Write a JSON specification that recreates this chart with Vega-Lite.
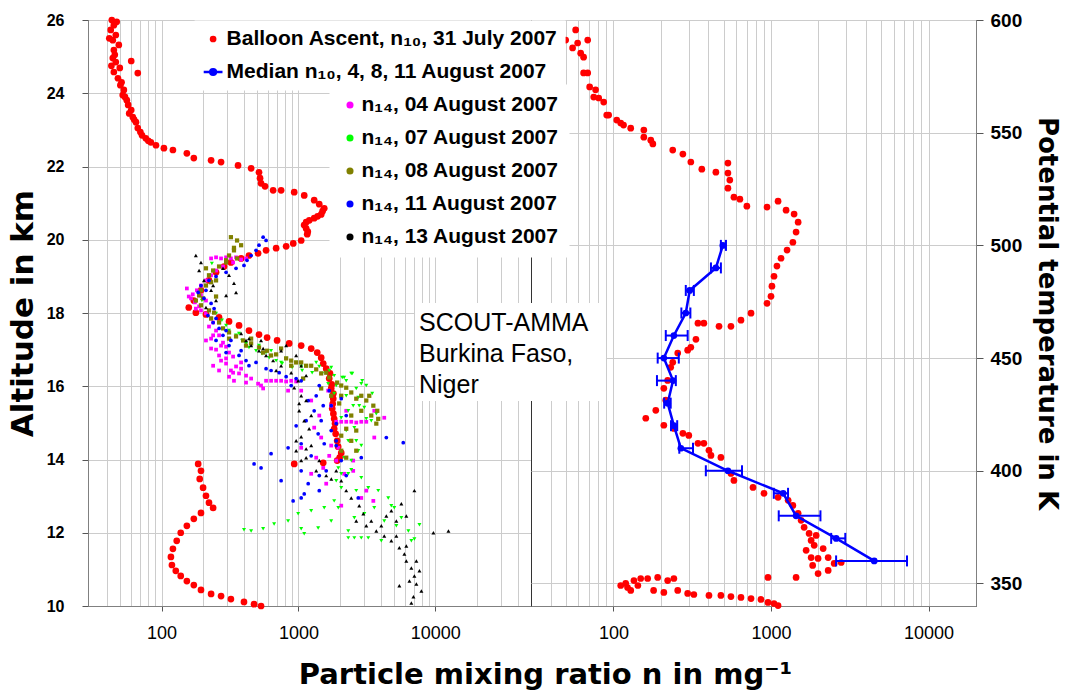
{
"$schema": "https://vega.github.io/schema/vega-lite/v6.json",
"background": "white",
"padding": {"left": 6, "top": 10, "right": 0, "bottom": 0},
"config": {
  "view": {"stroke": "#333", "strokeWidth": 1},
  "font": "Liberation Sans",
  "axis": {"domainColor": "#808080", "gridColor": "#cccccc", "gridWidth": 1, "tickColor": "#555", "labelColor": "#000", "titleColor": "#000", "labelFont": "Liberation Sans", "titleFont": "DejaVu Sans"},
  "legend": {"labelFont": "Liberation Sans"}
},
"spacing": 0,
"bounds": "flush",
"resolve": {"scale": {"color": "shared", "fill": "shared"}},
"datasets": {
"balL": [{"n":43.3,"alt":26.0},{"n":47,"alt":25.95},{"n":44.8,"alt":25.86},{"n":42.5,"alt":25.73},{"n":46.3,"alt":25.59},{"n":41.5,"alt":25.5},{"n":44,"alt":25.45},{"n":48.7,"alt":25.32},{"n":44.8,"alt":25.18},{"n":45.5,"alt":25.05},{"n":44,"alt":24.96},{"n":60,"alt":24.88},{"n":46.3,"alt":24.85},{"n":43,"alt":24.75},{"n":49.5,"alt":24.69},{"n":44.8,"alt":24.58},{"n":67,"alt":24.55},{"n":48,"alt":24.41},{"n":51,"alt":24.3},{"n":50,"alt":24.22},{"n":53,"alt":24.09},{"n":52,"alt":23.95},{"n":54,"alt":23.9},{"n":55.7,"alt":23.81},{"n":57,"alt":23.68},{"n":60,"alt":23.54},{"n":58,"alt":23.45},{"n":61.6,"alt":23.35},{"n":63,"alt":23.28},{"n":65,"alt":23.21},{"n":67,"alt":23.05},{"n":70,"alt":22.94},{"n":72,"alt":22.85},{"n":76.7,"alt":22.77},{"n":80,"alt":22.7},{"n":83.5,"alt":22.66},{"n":91,"alt":22.58},{"n":104,"alt":22.5},{"n":121,"alt":22.45},{"n":153,"alt":22.36},{"n":172,"alt":22.23},{"n":230,"alt":22.17},{"n":272,"alt":22.12},{"n":362,"alt":22.03},{"n":451,"alt":21.95},{"n":515,"alt":21.84},{"n":524,"alt":21.68},{"n":533,"alt":21.54},{"n":570,"alt":21.46},{"n":653,"alt":21.35},{"n":747,"alt":21.35},{"n":931,"alt":21.3},{"n":1102,"alt":21.21},{"n":1303,"alt":21.08},{"n":1419,"alt":20.97},{"n":1543,"alt":20.86},{"n":1500,"alt":20.78},{"n":1466,"alt":20.69},{"n":1380,"alt":20.64},{"n":1303,"alt":20.59},{"n":1200,"alt":20.53},{"n":1138,"alt":20.48},{"n":1100,"alt":20.4},{"n":1138,"alt":20.31},{"n":1170,"alt":20.22},{"n":1159,"alt":20.15},{"n":1047,"alt":19.98},{"n":916,"alt":19.9},{"n":813,"alt":19.82},{"n":687,"alt":19.77},{"n":580,"alt":19.71},{"n":507,"alt":19.63},{"n":435,"alt":19.57},{"n":381,"alt":19.49},{"n":321,"alt":19.38},{"n":286,"alt":19.27},{"n":250,"alt":19.11},{"n":222,"alt":18.89},{"n":194,"alt":18.62},{"n":172,"alt":18.34},{"n":158,"alt":18.15},{"n":178,"alt":18.01},{"n":211,"alt":17.96},{"n":263,"alt":17.88},{"n":311,"alt":17.77},{"n":368,"alt":17.66},{"n":435,"alt":17.52},{"n":515,"alt":17.41},{"n":590,"alt":17.33},{"n":698,"alt":17.25},{"n":855,"alt":17.17},{"n":1047,"alt":17.11},{"n":1239,"alt":17.03},{"n":1371,"alt":16.92},{"n":1466,"alt":16.78},{"n":1517,"alt":16.62},{"n":1595,"alt":16.48},{"n":1700,"alt":16.35},{"n":1678,"alt":16.21},{"n":1750,"alt":16.05},{"n":1735,"alt":15.94},{"n":1800,"alt":15.8},{"n":1795,"alt":15.66},{"n":1780,"alt":15.52},{"n":1765,"alt":15.39},{"n":1800,"alt":15.25},{"n":1824,"alt":15.11},{"n":1850,"alt":14.98},{"n":1824,"alt":14.84},{"n":1870,"alt":14.7},{"n":1918,"alt":14.51},{"n":1950,"alt":14.35},{"n":2054,"alt":14.18},{"n":2000,"alt":14.05},{"n":1918,"alt":13.97},{"n":1517,"alt":13.91},{"n":931,"alt":13.88},{"n":185,"alt":13.88},{"n":194,"alt":13.69},{"n":190,"alt":13.47},{"n":201,"alt":13.23},{"n":211,"alt":13.01},{"n":222,"alt":12.82},{"n":238,"alt":12.68},{"n":194,"alt":12.54},{"n":172,"alt":12.38},{"n":153,"alt":12.19},{"n":138,"alt":12.0},{"n":129,"alt":11.78},{"n":121,"alt":11.56},{"n":117,"alt":11.34},{"n":119,"alt":11.12},{"n":127,"alt":10.96},{"n":138,"alt":10.82},{"n":153,"alt":10.68},{"n":172,"alt":10.57},{"n":194,"alt":10.44},{"n":230,"alt":10.33},{"n":272,"alt":10.27},{"n":321,"alt":10.19},{"n":400,"alt":10.11},{"n":474,"alt":10.05},{"n":533,"alt":10.0}],
"balR": [{"n":49.8,"theta":591.1},{"n":57.6,"theta":595.6},{"n":55.1,"theta":587.6},{"n":59.3,"theta":589.8},{"n":62,"theta":585.3},{"n":64.7,"theta":583.5},{"n":68.7,"theta":591.1},{"n":64.7,"theta":576.5},{"n":68.7,"theta":576.5},{"n":70.7,"theta":570.3},{"n":77.1,"theta":569},{"n":75,"theta":565.8},{"n":80.7,"theta":565.4},{"n":86.8,"theta":563.6},{"n":90.7,"theta":557.8},{"n":93.3,"theta":557.8},{"n":105,"theta":555.6},{"n":111.3,"theta":554.3},{"n":116,"theta":553.4},{"n":128.8,"theta":552},{"n":156,"theta":551.2},{"n":156,"theta":548},{"n":172.7,"theta":546.7},{"n":178,"theta":545},{"n":238,"theta":542.3},{"n":276,"theta":540.5},{"n":310,"theta":537},{"n":364,"theta":533.8},{"n":447,"theta":532.5},{"n":533,"theta":536.5},{"n":533,"theta":532.1},{"n":548,"theta":529},{"n":533,"theta":525.4},{"n":582,"theta":521.4},{"n":635,"theta":520.5},{"n":703,"theta":517.4},{"n":944,"theta":517},{"n":1109,"theta":519.6},{"n":1247,"theta":515.6},{"n":1402,"theta":513.9},{"n":1487,"theta":510.3},{"n":1443,"theta":505.9},{"n":1377,"theta":501.4},{"n":1265,"theta":497.9},{"n":1158,"theta":494.3},{"n":1091,"theta":490.8},{"n":1045,"theta":486.3},{"n":1014,"theta":481.9},{"n":1000,"theta":477.4},{"n":944,"theta":474.3},{"n":747,"theta":469.9},{"n":645,"theta":466.8},{"n":557,"theta":464.1},{"n":468,"theta":464.1},{"n":375,"theta":465.5},{"n":344,"theta":465.5},{"n":334,"theta":458.3},{"n":310,"theta":454.8},{"n":296,"theta":453.5},{"n":256,"theta":452.2},{"n":238,"theta":448.1},{"n":231,"theta":445.9},{"n":221,"theta":440.1},{"n":209,"theta":436.6},{"n":215,"theta":431.3},{"n":185.8,"theta":426.8},{"n":160.5,"theta":423.3},{"n":209,"theta":420.2},{"n":242,"theta":418.8},{"n":276,"theta":416.6},{"n":301,"theta":415.7},{"n":344,"theta":412.2},{"n":375,"theta":412.2},{"n":404,"theta":409.1},{"n":416,"theta":406.8},{"n":481,"theta":405.9},{"n":557,"theta":398.8},{"n":582,"theta":395.7},{"n":769,"theta":392.6},{"n":903,"theta":390},{"n":1109,"theta":388.2},{"n":1285,"theta":386.9},{"n":1377,"theta":384.6},{"n":1487,"theta":381.1},{"n":1553,"theta":378},{"n":1623,"theta":374.9},{"n":1746,"theta":372.2},{"n":1798,"theta":369.1},{"n":1880,"theta":366.9},{"n":1798,"theta":361.5},{"n":1990,"theta":361.1},{"n":2306,"theta":361.5},{"n":2518,"theta":358.9},{"n":2306,"theta":355.8},{"n":1990,"theta":354.4},{"n":1443,"theta":352.7},{"n":957,"theta":352.7},{"n":1935,"theta":371.3},{"n":2143,"theta":365.5},{"n":1671,"theta":364.7},{"n":2790,"theta":359.3},{"n":1839,"theta":358},{"n":111.3,"theta":349.1},{"n":123,"theta":348.2},{"n":135,"theta":351.3},{"n":149,"theta":352.2},{"n":165,"theta":352.2},{"n":191,"theta":352.7},{"n":221,"theta":351.3},{"n":242,"theta":352.2},{"n":180,"theta":346.9},{"n":209,"theta":346},{"n":256,"theta":346.9},{"n":296,"theta":345.6},{"n":324,"theta":345.1},{"n":404,"theta":344.7},{"n":481,"theta":344.7},{"n":557,"theta":344.2},{"n":645,"theta":343.8},{"n":747,"theta":343.3},{"n":864,"theta":342.9},{"n":957,"theta":341.6},{"n":1045,"theta":341.1},{"n":1109,"theta":340.2},{"n":119.7,"theta":350},{"n":128.8,"theta":346.9},{"n":143,"theta":349.1}],
"med": [{"theta":500,"n":495,"lo":481,"hi":518},{"theta":490,"n":447,"lo":416,"hi":481},{"theta":480,"n":305,"lo":288,"hi":324},{"theta":470,"n":288,"lo":270,"hi":308},{"theta":460,"n":242,"lo":215,"hi":296},{"theta":450,"n":209,"lo":191,"hi":260},{"theta":440,"n":239,"lo":189,"hi":249},{"theta":430,"n":221,"lo":210,"hi":231},{"theta":420,"n":242,"lo":232,"hi":254},{"theta":410,"n":268,"lo":262,"hi":320},{"theta":400,"n":533,"lo":386,"hi":655},{"theta":390,"n":1195,"lo":1042,"hi":1283},{"theta":380,"n":1443,"lo":1120,"hi":2060},{"theta":370,"n":2593,"lo":2410,"hi":2962},{"theta":360,"n":4520,"lo":2590,"hi":7300}],
"m04": [{"n":230,"alt":19.49},{"n":250,"alt":19.52},{"n":272,"alt":19.49},{"n":296,"alt":19.52},{"n":321,"alt":19.49},{"n":350,"alt":19.52},{"n":381,"alt":19.46},{"n":414,"alt":19.49},{"n":333,"alt":19.38},{"n":281,"alt":19.27},{"n":250,"alt":19.16},{"n":230,"alt":19.03},{"n":211,"alt":18.89},{"n":194,"alt":18.75},{"n":181,"alt":18.62},{"n":169,"alt":18.51},{"n":164,"alt":18.4},{"n":175,"alt":18.29},{"n":188,"alt":18.18},{"n":194,"alt":18.07},{"n":211,"alt":17.99},{"n":230,"alt":17.85},{"n":238,"alt":17.74},{"n":222,"alt":17.63},{"n":250,"alt":17.52},{"n":263,"alt":17.39},{"n":230,"alt":17.3},{"n":281,"alt":17.19},{"n":296,"alt":17.08},{"n":250,"alt":17.0},{"n":311,"alt":16.92},{"n":333,"alt":16.81},{"n":272,"alt":16.7},{"n":296,"alt":16.62},{"n":350,"alt":16.54},{"n":321,"alt":16.43},{"n":368,"alt":16.35},{"n":311,"alt":16.26},{"n":580,"alt":16.15},{"n":631,"alt":16.15},{"n":687,"alt":16.15},{"n":747,"alt":16.15},{"n":813,"alt":16.13},{"n":885,"alt":16.15},{"n":962,"alt":16.13},{"n":451,"alt":16.21},{"n":507,"alt":16.07},{"n":552,"alt":15.94},{"n":840,"alt":15.88},{"n":1239,"alt":15.61},{"n":1648,"alt":15.88},{"n":1303,"alt":14.87},{"n":1466,"alt":14.6},{"n":1047,"alt":14.32},{"n":1955,"alt":14.32},{"n":1517,"alt":13.77},{"n":1595,"alt":13.34},{"n":1239,"alt":13.61},{"n":2158,"alt":13.61},{"n":2877,"alt":12.95},{"n":3524,"alt":12.87},{"n":3580,"alt":14.6},{"n":4235,"alt":15.14},{"n":3580,"alt":15.33},{"n":1888,"alt":15.03},{"n":2054,"alt":15.03},{"n":2234,"alt":15.03},{"n":2431,"alt":15.03},{"n":2644,"alt":15.01},{"n":2877,"alt":15.03},{"n":3130,"alt":15.03},{"n":1735,"alt":15.47},{"n":2234,"alt":15.33},{"n":1888,"alt":13.97},{"n":2512,"alt":13.69},{"n":1678,"alt":14.1},{"n":153,"alt":18.67},{"n":158,"alt":18.45},{"n":238,"alt":16.56},{"n":263,"alt":16.84},{"n":381,"alt":16.48},{"n":414,"alt":16.29},{"n":338,"alt":16.15},{"n":194,"alt":18.48},{"n":211,"alt":18.34},{"n":178,"alt":18.12},{"n":238,"alt":17.39},{"n":272,"alt":17.11},{"n":211,"alt":17.25},{"n":263,"alt":16.43},{"n":296,"alt":16.76},{"n":381,"alt":16.65},{"n":333,"alt":16.37},{"n":230,"alt":17.03},{"n":414,"alt":16.1},{"n":533,"alt":16.02},{"n":1047,"alt":15.88},{"n":1419,"alt":15.2},{"n":1735,"alt":14.38},{"n":1348,"alt":14.05},{"n":2512,"alt":13.97},{"n":3130,"alt":13.15},{"n":2054,"alt":12.74}],
"g07": [{"n":233,"alt":19.35},{"n":197,"alt":18.34},{"n":250,"alt":17.99},{"n":276,"alt":17.8},{"n":311,"alt":17.52},{"n":350,"alt":17.39},{"n":387,"alt":17.25},{"n":435,"alt":17.06},{"n":490,"alt":16.97},{"n":542,"alt":16.89},{"n":611,"alt":16.78},{"n":687,"alt":16.7},{"n":760,"alt":16.62},{"n":899,"alt":16.51},{"n":1064,"alt":16.43},{"n":1259,"alt":16.37},{"n":1489,"alt":16.35},{"n":1678,"alt":16.43},{"n":2089,"alt":16.24},{"n":2472,"alt":16.35},{"n":2924,"alt":16.15},{"n":3459,"alt":15.8},{"n":3705,"alt":15.25},{"n":2158,"alt":16.24},{"n":2431,"alt":16.35},{"n":2877,"alt":16.07},{"n":2735,"alt":15.69},{"n":3027,"alt":15.42},{"n":2312,"alt":15.33},{"n":2054,"alt":15.14},{"n":2560,"alt":14.87},{"n":2312,"alt":14.51},{"n":2735,"alt":14.24},{"n":2158,"alt":14.05},{"n":1955,"alt":13.77},{"n":2312,"alt":13.61},{"n":2877,"alt":13.5},{"n":2054,"alt":13.23},{"n":1824,"alt":12.87},{"n":1543,"alt":12.68},{"n":1239,"alt":12.6},{"n":995,"alt":12.52},{"n":840,"alt":12.32},{"n":664,"alt":12.24},{"n":552,"alt":12.11},{"n":451,"alt":12.05},{"n":400,"alt":12.08},{"n":1102,"alt":11.97},{"n":1393,"alt":12.13},{"n":2312,"alt":11.86},{"n":2560,"alt":11.86},{"n":2877,"alt":11.86},{"n":3236,"alt":11.86},{"n":3827,"alt":13.15},{"n":4529,"alt":12.95},{"n":5012,"alt":12.68},{"n":5645,"alt":12.41},{"n":6353,"alt":12.05},{"n":7030,"alt":11.83},{"n":7656,"alt":12.22},{"n":3580,"alt":12.68},{"n":4235,"alt":12.32},{"n":3027,"alt":12.52},{"n":2560,"alt":12.41},{"n":2312,"alt":12.05},{"n":1955,"alt":12.68},{"n":3236,"alt":13.23},{"n":1648,"alt":16.07},{"n":1824,"alt":15.8},{"n":1735,"alt":16.51},{"n":2054,"alt":13.61},{"n":296,"alt":17.66},{"n":368,"alt":17.44},{"n":515,"alt":17.11},{"n":631,"alt":16.97},{"n":813,"alt":16.76},{"n":962,"alt":16.65},{"n":1419,"alt":16.54},{"n":1888,"alt":16.02},{"n":2234,"alt":15.74},{"n":2512,"alt":15.47},{"n":3130,"alt":15.11},{"n":2644,"alt":14.51},{"n":2431,"alt":13.97},{"n":414,"alt":17.17},{"n":580,"alt":16.92},{"n":747,"alt":16.65},{"n":1047,"alt":16.54},{"n":1348,"alt":16.65},{"n":1824,"alt":16.29},{"n":2234,"alt":16.15},{"n":2644,"alt":15.94},{"n":3130,"alt":16.02},{"n":2780,"alt":15.47},{"n":3404,"alt":15.06},{"n":2234,"alt":14.79},{"n":2877,"alt":14.38},{"n":2431,"alt":13.72},{"n":1888,"alt":13.42},{"n":2644,"alt":13.15},{"n":1047,"alt":12.11},{"n":1735,"alt":12.32},{"n":5190,"alt":12.19},{"n":6680,"alt":11.78},{"n":4030,"alt":11.78},{"n":4770,"alt":12.74}],
"o08": [{"n":321,"alt":20.07},{"n":356,"alt":19.98},{"n":381,"alt":19.85},{"n":338,"alt":19.71},{"n":311,"alt":19.57},{"n":356,"alt":19.49},{"n":296,"alt":19.38},{"n":263,"alt":19.27},{"n":238,"alt":19.16},{"n":222,"alt":19.03},{"n":250,"alt":18.89},{"n":211,"alt":18.75},{"n":194,"alt":18.62},{"n":188,"alt":18.48},{"n":178,"alt":18.34},{"n":194,"alt":18.21},{"n":222,"alt":18.07},{"n":242,"alt":18.01},{"n":230,"alt":17.85},{"n":263,"alt":17.74},{"n":281,"alt":17.58},{"n":311,"alt":17.47},{"n":350,"alt":17.36},{"n":394,"alt":17.25},{"n":451,"alt":17.17},{"n":515,"alt":17.06},{"n":590,"alt":16.97},{"n":687,"alt":16.87},{"n":813,"alt":16.76},{"n":962,"alt":16.65},{"n":1138,"alt":16.56},{"n":1348,"alt":16.46},{"n":1466,"alt":16.35},{"n":1678,"alt":16.24},{"n":1918,"alt":16.1},{"n":2234,"alt":15.96},{"n":2431,"alt":15.83},{"n":2054,"alt":15.74},{"n":2644,"alt":15.66},{"n":3130,"alt":15.61},{"n":3524,"alt":15.47},{"n":3767,"alt":15.33},{"n":3827,"alt":15.11},{"n":3705,"alt":14.98},{"n":2431,"alt":15.2},{"n":2234,"alt":14.84},{"n":2431,"alt":14.51},{"n":2644,"alt":14.24},{"n":2234,"alt":14.05},{"n":1239,"alt":16.56},{"n":1082,"alt":16.21},{"n":1466,"alt":15.94},{"n":1735,"alt":15.74},{"n":1985,"alt":15.53},{"n":747,"alt":17.03},{"n":631,"alt":16.84},{"n":451,"alt":17.3},{"n":250,"alt":18.45},{"n":211,"alt":19.22},{"n":2877,"alt":15.33},{"n":3290,"alt":15.74},{"n":2054,"alt":14.65},{"n":885,"alt":16.56},{"n":552,"alt":16.92},{"n":338,"alt":19.78},{"n":296,"alt":19.44},{"n":230,"alt":18.84},{"n":201,"alt":18.4},{"n":311,"alt":17.3},{"n":414,"alt":17.11},{"n":885,"alt":16.7},{"n":1047,"alt":16.65},{"n":1595,"alt":16.37},{"n":2054,"alt":16.02},{"n":2877,"alt":15.74},{"n":3404,"alt":15.2},{"n":2644,"alt":14.79},{"n":2054,"alt":14.24}],
"b11": [{"n":552,"alt":20.07},{"n":580,"alt":19.98},{"n":515,"alt":19.85},{"n":490,"alt":19.71},{"n":451,"alt":19.57},{"n":421,"alt":19.44},{"n":400,"alt":19.3},{"n":350,"alt":19.22},{"n":296,"alt":19.11},{"n":250,"alt":19.0},{"n":222,"alt":18.89},{"n":194,"alt":18.75},{"n":185,"alt":18.56},{"n":204,"alt":18.4},{"n":230,"alt":18.26},{"n":242,"alt":18.12},{"n":218,"alt":17.93},{"n":238,"alt":17.74},{"n":263,"alt":17.58},{"n":281,"alt":17.39},{"n":250,"alt":17.25},{"n":311,"alt":17.11},{"n":296,"alt":16.92},{"n":368,"alt":16.84},{"n":414,"alt":16.7},{"n":490,"alt":16.65},{"n":580,"alt":16.48},{"n":723,"alt":16.37},{"n":813,"alt":16.26},{"n":1047,"alt":16.15},{"n":1178,"alt":15.61},{"n":1303,"alt":15.33},{"n":1393,"alt":14.7},{"n":1047,"alt":14.43},{"n":840,"alt":14.32},{"n":631,"alt":14.16},{"n":474,"alt":13.88},{"n":533,"alt":13.77},{"n":1178,"alt":13.34},{"n":1102,"alt":13.06},{"n":914,"alt":12.87},{"n":1047,"alt":12.95},{"n":1888,"alt":14.98},{"n":1543,"alt":14.43},{"n":2054,"alt":13.97},{"n":4385,"alt":14.6},{"n":5830,"alt":14.46},{"n":2877,"alt":14.05},{"n":2735,"alt":12.95},{"n":1466,"alt":15.06},{"n":1735,"alt":14.79},{"n":2234,"alt":15.2},{"n":1239,"alt":14.1},{"n":1595,"alt":13.69},{"n":2054,"alt":15.66},{"n":1678,"alt":15.88},{"n":962,"alt":14.92},{"n":1348,"alt":15.74},{"n":321,"alt":17.25},{"n":435,"alt":16.56},{"n":885,"alt":16.02},{"n":1735,"alt":15.47},{"n":1888,"alt":14.38},{"n":1419,"alt":13.56},{"n":211,"alt":18.62},{"n":250,"alt":17.85},{"n":296,"alt":17.52},{"n":381,"alt":16.97},{"n":631,"alt":16.43},{"n":962,"alt":16.21},{"n":1419,"alt":16.02},{"n":1517,"alt":15.47},{"n":1138,"alt":15.06},{"n":1888,"alt":14.51},{"n":1047,"alt":13.69},{"n":747,"alt":13.42},{"n":1419,"alt":13.15},{"n":2234,"alt":13.56}],
"k13": [{"n":178,"alt":19.57},{"n":188,"alt":19.16},{"n":204,"alt":18.89},{"n":230,"alt":18.62},{"n":250,"alt":18.34},{"n":211,"alt":18.15},{"n":281,"alt":19.22},{"n":311,"alt":19.03},{"n":338,"alt":18.81},{"n":350,"alt":18.56},{"n":381,"alt":17.44},{"n":414,"alt":17.25},{"n":451,"alt":17.11},{"n":515,"alt":16.97},{"n":580,"alt":16.84},{"n":653,"alt":16.7},{"n":687,"alt":16.43},{"n":813,"alt":17.11},{"n":962,"alt":16.84},{"n":1047,"alt":16.56},{"n":885,"alt":16.37},{"n":995,"alt":16.15},{"n":931,"alt":15.96},{"n":1047,"alt":15.74},{"n":1138,"alt":15.61},{"n":1012,"alt":15.33},{"n":1102,"alt":15.06},{"n":1197,"alt":14.84},{"n":1047,"alt":14.62},{"n":1239,"alt":14.38},{"n":962,"alt":14.24},{"n":1138,"alt":14.05},{"n":2054,"alt":13.42},{"n":2234,"alt":13.15},{"n":2431,"alt":12.95},{"n":2780,"alt":12.74},{"n":2978,"alt":12.52},{"n":2644,"alt":12.32},{"n":3130,"alt":12.19},{"n":3705,"alt":12.05},{"n":4235,"alt":11.91},{"n":4770,"alt":11.78},{"n":5458,"alt":11.59},{"n":5940,"alt":11.42},{"n":6140,"alt":11.23},{"n":6680,"alt":11.04},{"n":7030,"alt":10.82},{"n":7270,"alt":10.6},{"n":7906,"alt":10.41},{"n":6918,"alt":10.25},{"n":6680,"alt":10.08},{"n":7030,"alt":13.15},{"n":5645,"alt":12.79},{"n":6140,"alt":12.46},{"n":9680,"alt":12.0},{"n":12470,"alt":12.05},{"n":5190,"alt":12.32},{"n":4770,"alt":12.6},{"n":1888,"alt":13.69},{"n":4030,"alt":12.19},{"n":533,"alt":17.25},{"n":747,"alt":16.97},{"n":1047,"alt":13.97},{"n":1348,"alt":13.69},{"n":1738,"alt":13.47},{"n":6470,"alt":10.68},{"n":5458,"alt":10.55},{"n":194,"alt":19.38},{"n":238,"alt":18.75},{"n":296,"alt":18.48},{"n":435,"alt":17.3},{"n":552,"alt":17.03},{"n":747,"alt":16.56},{"n":1138,"alt":16.29},{"n":1012,"alt":15.53},{"n":1239,"alt":15.2},{"n":962,"alt":14.51},{"n":1138,"alt":14.29},{"n":1419,"alt":13.97},{"n":1595,"alt":13.56},{"n":3404,"alt":12.32},{"n":4385,"alt":12.46},{"n":5190,"alt":11.91},{"n":6140,"alt":11.64},{"n":7270,"alt":11.23},{"n":7656,"alt":10.96}],
"note": [{"n":5.84,"theta":470.9,"label":"SCOUT-AMMA|Burkina Faso,|Niger"}],
"box": [{"n1":5.51,"n2":89.7,"t1":474.4,"t2":431.0}]
},
"hconcat": [
{
  "width": 443,
  "height": 586,
  "layer": [
    {
      "data": {"name": "balL"},
      "mark": {"type": "point", "filled": true, "size": 45, "opacity": 1},
      "encoding": {
        "x": {"field": "n", "type": "quantitative",
          "scale": {"type": "log", "domain": [29, 50000], "nice": false},
          "axis": {"title": "Particle mixing ratio n in mg⁻¹", "titleX": 457, "titleY": 77, "titleBaseline": "alphabetic", "titleAlign": "center", "titleAnchor": null, "titleFontSize": 29, "titleFontWeight": "bold",
            "values": [40,50,60,70,80,90,100,200,300,400,500,600,700,800,900,1000,2000,3000,4000,5000,6000,7000,8000,9000,10000,20000,30000,40000],
            "format": "d",
            "labelExpr": "datum.value == 100 || datum.value == 1000 || datum.value == 10000 ? datum.label : ''",
            "labelFontSize": 18, "labelFontWeight": "normal", "labelPadding": 13, "labelFlush": false, "labelOverlap": false,
            "tickSize": 5, "tickOpacity": {"condition": {"test": "datum.value == 100 || datum.value == 1000 || datum.value == 10000", "value": 1}, "value": 0},
            "grid": true}},
        "y": {"field": "alt", "type": "quantitative",
          "scale": {"domain": [10, 26], "nice": false, "zero": false},
          "axis": {"title": "Altitude in km", "values": [10,12,14,16,18,20,22,24,26], "labelFontSize": 16, "labelFontWeight": "bold", "tickSize": 6, "labelPadding": 18, "titleFontSize": 31, "titleFontWeight": "bold", "titlePadding": 7, "grid": true}},
        "fill": {"datum": "Balloon Ascent, n₁₀, 31 July 2007", "type": "nominal",
          "scale": {"domain": ["Balloon Ascent, n₁₀, 31 July 2007", "Median n₁₀, 4, 8, 11 August 2007"], "range": ["#ff0000", "#0000ff"]},
          "legend": {"orient": "none", "legendX": 106.6, "legendY": 0.5, "title": null, "fillColor": "white", "padding": 8, "symbolSize": 45, "symbolType": "circle", "symbolOpacity": 1, "labelFontSize": 21, "labelFontWeight": "bold", "labelColor": "#000", "labelOffset": 3, "rowPadding": 11, "labelLimit": 0, "zindex": 1,
            "encode": {"symbols": {"update": {
              "shape": {"signal": "datum.index == 1 ? 'M-2.8,0H2.8M-0.85,0A0.85,0.85,0,1,1,0.85,0A0.85,0.85,0,1,1,-0.85,0Z' : 'circle'"},
              "stroke": {"signal": "datum.index == 1 ? '#0000ff' : '#ff0000'"},
              "strokeWidth": {"signal": "datum.index == 1 ? 2.5 : 0"}}}}}}
      }
    },
    {
      "data": {"name": "m04"},
      "mark": {"type": "point", "shape": "square", "filled": true, "size": 14, "opacity": 1},
      "encoding": {
        "x": {"field": "n", "type": "quantitative"},
        "y": {"field": "alt", "type": "quantitative"},
        "color": {"datum": "n₁₄, 04 August 2007", "type": "nominal",
          "scale": {"domain": ["n₁₄, 04 August 2007", "n₁₄, 07 August 2007", "n₁₄, 08 August 2007", "n₁₄, 11 August 2007", "n₁₄, 13 August 2007"], "range": ["#ff00ff", "#00ff00", "#808000", "#0000ff", "#000000"]},
          "legend": {"orient": "none", "legendX": 241.5, "legendY": 64.5, "title": null, "fillColor": "white", "padding": 10, "symbolSize": 50, "symbolType": "circle", "symbolOpacity": 1, "symbolStrokeWidth": 0, "labelFontSize": 21, "labelFontWeight": "bold", "labelColor": "#000", "labelOffset": 1, "rowPadding": 11, "labelLimit": 0, "zindex": 1}}
      }
    },
    {
      "data": {"name": "g07"},
      "mark": {"type": "point", "shape": "triangle-down", "filled": true, "size": 16, "opacity": 1},
      "encoding": {"x": {"field": "n", "type": "quantitative"}, "y": {"field": "alt", "type": "quantitative"}, "color": {"datum": "n₁₄, 07 August 2007", "type": "nominal"}}
    },
    {
      "data": {"name": "o08"},
      "mark": {"type": "point", "shape": "square", "filled": true, "size": 18, "opacity": 1},
      "encoding": {"x": {"field": "n", "type": "quantitative"}, "y": {"field": "alt", "type": "quantitative"}, "color": {"datum": "n₁₄, 08 August 2007", "type": "nominal"}}
    },
    {
      "data": {"name": "b11"},
      "mark": {"type": "point", "shape": "circle", "filled": true, "size": 14, "opacity": 1},
      "encoding": {"x": {"field": "n", "type": "quantitative"}, "y": {"field": "alt", "type": "quantitative"}, "color": {"datum": "n₁₄, 11 August 2007", "type": "nominal"}}
    },
    {
      "data": {"name": "k13"},
      "mark": {"type": "point", "shape": "triangle-up", "filled": true, "size": 16, "opacity": 1},
      "encoding": {"x": {"field": "n", "type": "quantitative"}, "y": {"field": "alt", "type": "quantitative"}, "color": {"datum": "n₁₄, 13 August 2007", "type": "nominal"}}
    }
  ]
},
{
  "width": 445,
  "height": 586,
  "layer": [
    {
      "data": {"name": "balR"},
      "mark": {"type": "point", "filled": true, "size": 45, "opacity": 1},
      "encoding": {
        "x": {"field": "n", "type": "quantitative",
          "scale": {"type": "log", "domain": [30, 20000], "nice": false},
          "axis": {"title": null,
            "values": [40,50,60,70,80,90,100,200,300,400,500,600,700,800,900,1000,2000,3000,4000,5000,6000,7000,8000,9000,10000],
            "format": "d",
            "labelExpr": "datum.value == 100 || datum.value == 1000 || datum.value == 10000 ? datum.label : ''",
            "labelFontSize": 18, "labelFontWeight": "normal", "labelPadding": 13, "labelFlush": false, "labelOverlap": false,
            "tickSize": 5, "tickOpacity": {"condition": {"test": "datum.value == 100 || datum.value == 1000 || datum.value == 10000", "value": 1}, "value": 0},
            "grid": true}},
        "y": {"field": "theta", "type": "quantitative",
          "scale": {"domain": [340, 600], "nice": false, "zero": false},
          "axis": {"orient": "right", "title": "Potential temperature in K", "values": [350,400,450,500,550,600], "labelFontSize": 19, "labelFontWeight": "bold", "tickSize": 7, "labelPadding": 7, "titleFontSize": 26, "titleFontWeight": "bold", "titlePadding": 12, "grid": true}},
        "fill": {"datum": "Balloon Ascent, n₁₀, 31 July 2007", "type": "nominal"}
      }
    },
    {
      "data": {"name": "box"},
      "mark": {"type": "rect", "fill": "white", "strokeWidth": 0},
      "encoding": {"x": {"field": "n1", "type": "quantitative"}, "x2": {"field": "n2"}, "y": {"field": "t1", "type": "quantitative"}, "y2": {"field": "t2"}}
    },
    {
      "data": {"name": "note"},
      "mark": {"type": "text", "align": "left", "baseline": "top", "fontSize": 25, "font": "Liberation Sans", "lineBreak": "|", "lineHeight": 31, "color": "#000"},
      "encoding": {"x": {"field": "n", "type": "quantitative"}, "y": {"field": "theta", "type": "quantitative"}, "text": {"field": "label", "type": "nominal"}}
    },
    {
      "data": {"name": "med"},
      "mark": {"type": "rule", "color": "#0000ff", "strokeWidth": 2},
      "encoding": {"x": {"field": "lo", "type": "quantitative"}, "x2": {"field": "hi"}, "y": {"field": "theta", "type": "quantitative"}}
    },
    {
      "data": {"name": "med"},
      "mark": {"type": "tick", "orient": "vertical", "color": "#0000ff", "thickness": 2, "size": 11, "opacity": 1},
      "encoding": {"x": {"field": "lo", "type": "quantitative"}, "y": {"field": "theta", "type": "quantitative"}}
    },
    {
      "data": {"name": "med"},
      "mark": {"type": "tick", "orient": "vertical", "color": "#0000ff", "thickness": 2, "size": 11, "opacity": 1},
      "encoding": {"x": {"field": "hi", "type": "quantitative"}, "y": {"field": "theta", "type": "quantitative"}}
    },
    {
      "data": {"name": "med"},
      "mark": {"type": "line", "color": "#0000ff", "strokeWidth": 2.5},
      "encoding": {"x": {"field": "n", "type": "quantitative"}, "y": {"field": "theta", "type": "quantitative"}, "order": {"field": "theta", "type": "quantitative"}}
    },
    {
      "data": {"name": "med"},
      "mark": {"type": "point", "filled": true, "size": 45, "color": "#0000ff", "opacity": 1},
      "encoding": {"x": {"field": "n", "type": "quantitative"}, "y": {"field": "theta", "type": "quantitative"}}
    }
  ]
}
]
}
